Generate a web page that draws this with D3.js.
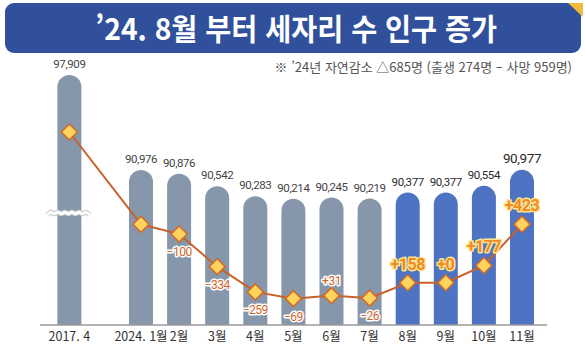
<!DOCTYPE html>
<html lang="ko">
<head>
<meta charset="UTF-8">
<title>세자리 수 인구 증가</title>
<script src="https://cdnjs.cloudflare.com/ajax/libs/d3/7.8.5/d3.min.js"></script>
<style>
  body { margin: 0; background: #fff; }
  svg { display: block; font-family: "Noto Sans CJK KR", "Noto Sans", sans-serif; }
</style>
</head>
<body>
<div id="chart"></div>
<script>
    // data
    var categories = ["2017. 4", "2024. 1월", "2월", "3월", "4월", "5월", "6월", "7월", "8월", "9월", "10월", "11월"];
    var population = [97909, 90976, 90876, 90542, 90283, 90214, 90245, 90219, 90377, 90377, 90554, 90977];
    var changeLabels = [null, null, "-100", "-334", "-259", "-69", "+31", "-26", "+158", "+0", "+177", "+423"];
    var highlightFrom = 8; // from 8월 on, bars are blue

    var title = "’24. 8월 부터 세자리 수 인구 증가";
    var note = "※ ’24년 자연감소 △685명 (출생 274명 – 사망 959명)";

    var width = 585, height = 352;
    var baseY = 325;

    var svg = d3.select("#chart").append("svg")
        .attr("width", width)
        .attr("height", height);

    // banner
    svg.append("rect")
        .attr("x", 5).attr("y", 3)
        .attr("width", 576).attr("height", 50)
        .attr("rx", 9)
        .attr("fill", "#30509c");
    svg.append("path")
        .attr("d", "M568,3 L583,3 L583,17 Z")
        .attr("fill", "#f2b93b");
    svg.append("text")
        .attr("x", 296).attr("y", 40)
        .attr("text-anchor", "middle")
        .attr("fill", "#fff")
        .attr("font-size", 30)
        .attr("font-weight", 700)
        .attr("textLength", 402)
        .attr("lengthAdjust", "spacingAndGlyphs")
        .text(title);

    svg.append("text")
        .attr("x", 572).attr("y", 72)
        .attr("text-anchor", "end")
        .attr("fill", "#555")
        .attr("font-size", 13)
        .text(note);

    // x: 2017 sits apart from the 2024 months
    var x = d3.scaleLinear().domain([0, 10]).range([141, 522]);
    function slot(i) { return i === 0 ? -1.88 : i - 1; }
    function cx(i) { return x(slot(i)); }

    // broken y scales (the 2017 value is compressed)
    var yBar = d3.scaleLinear().domain([86874, 91000, 97909]).range([baseY, 169, 75]);
    var yLine = d3.scaleLinear().domain([90200, 91000, 97909]).range([300, 222, 132]);

    var barW = 24, r = barW / 2;

    svg.append("g").selectAll("path")
        .data(population)
        .join("path")
        .attr("d", function (d, i) {
            var x0 = cx(i) - r, top = yBar(d);
            return "M" + x0 + "," + baseY +
                   "V" + (top + r) +
                   "A" + r + "," + r + " 0 0 1 " + (x0 + barW) + "," + (top + r) +
                   "V" + baseY + "Z";
        })
        .attr("fill", function (d, i) { return i >= highlightFrom ? "#4e73c2" : "#8696ab"; });

    // axis break mark on the 2017 bar
    var wave = d3.line().curve(d3.curveBasis);
    var wavePts = d3.range(0, 45, 3.5).map(function (t, k) {
        return [cx(0) - 22 + t, 213 + (k % 2 ? -2 : 2)];
    });
    svg.append("path").attr("d", wave(wavePts))
        .attr("fill", "none").attr("stroke", "#c4c8ce").attr("stroke-width", 5);
    svg.append("path").attr("d", wave(wavePts))
        .attr("fill", "none").attr("stroke", "#fff").attr("stroke-width", 3);

    // baseline
    svg.append("line")
        .attr("x1", 40).attr("x2", 547)
        .attr("y1", baseY).attr("y2", baseY)
        .attr("stroke", "#9a9a9a").attr("stroke-width", 1.5);

    // bar value labels
    svg.append("g").selectAll("text")
        .data(population)
        .join("text")
        .attr("x", function (d, i) { return cx(i); })
        .attr("y", function (d) { return yBar(d) - 7; })
        .attr("text-anchor", "middle")
        .attr("font-family", "Roboto, sans-serif")
        .attr("font-size", function (d, i) { return i === population.length - 1 ? 13.5 : 11.5; })
        .attr("letter-spacing", -0.4)
        .attr("fill", function (d, i) { return i >= highlightFrom ? "#2a2a2a" : "#444"; })
        .text(function (d) { return d3.format(",")(d); });

    // category labels
    svg.append("g").selectAll("text")
        .data(categories)
        .join("text")
        .attr("x", function (d, i) { return cx(i); })
        .attr("y", 341)
        .attr("text-anchor", "middle")
        .attr("font-size", 12.5)
        .attr("fill", "#333")
        .text(function (d) { return d; });

    // population line
    var line = d3.line()
        .x(function (d, i) { return cx(i); })
        .y(function (d) { return yLine(d); });

    svg.append("path")
        .datum(population)
        .attr("d", line)
        .attr("fill", "none")
        .attr("stroke", "#c8622a")
        .attr("stroke-width", 2);

    svg.append("g").selectAll("path")
        .data(population)
        .join("path")
        .attr("transform", function (d, i) { return "translate(" + cx(i) + "," + yLine(d) + ")"; })
        .attr("d", "M0,-8 L8,0 L0,8 L-8,0 Z")
        .attr("fill", "#ffd45e")
        .attr("stroke", "#d06c28")
        .attr("stroke-width", 1.5);

    // change labels
    var changes = changeLabels
        .map(function (d, i) { return { label: d, i: i }; })
        .filter(function (d) { return d.label !== null; });

    svg.append("g").selectAll("text")
        .data(changes)
        .join("text")
        .attr("x", function (d) { return cx(d.i); })
        .attr("y", function (d) {
            var py = yLine(population[d.i]);
            if (d.label.charAt(0) === "-") return py + 22;
            return d.i >= highlightFrom ? py - 13 : py - 11;
        })
        .attr("text-anchor", "middle")
        .attr("font-family", "Roboto, sans-serif")
        .attr("font-size", function (d) { return d.i >= highlightFrom ? 16 : 12; })
        .attr("font-weight", function (d) { return d.i >= highlightFrom ? 700 : 400; })
        .attr("letter-spacing", -0.5)
        .attr("fill", function (d) { return d.i >= highlightFrom ? "#ef8a26" : "#d0652a"; })
        .attr("stroke", function (d) { return d.i >= highlightFrom ? "#ffe48e" : "#fff"; })
        .attr("stroke-width", 3)
        .attr("paint-order", "stroke")
        .attr("stroke-linejoin", "round")
        .text(function (d) { return d.label.replace("-", "−"); });
</script>
</body>
</html>
